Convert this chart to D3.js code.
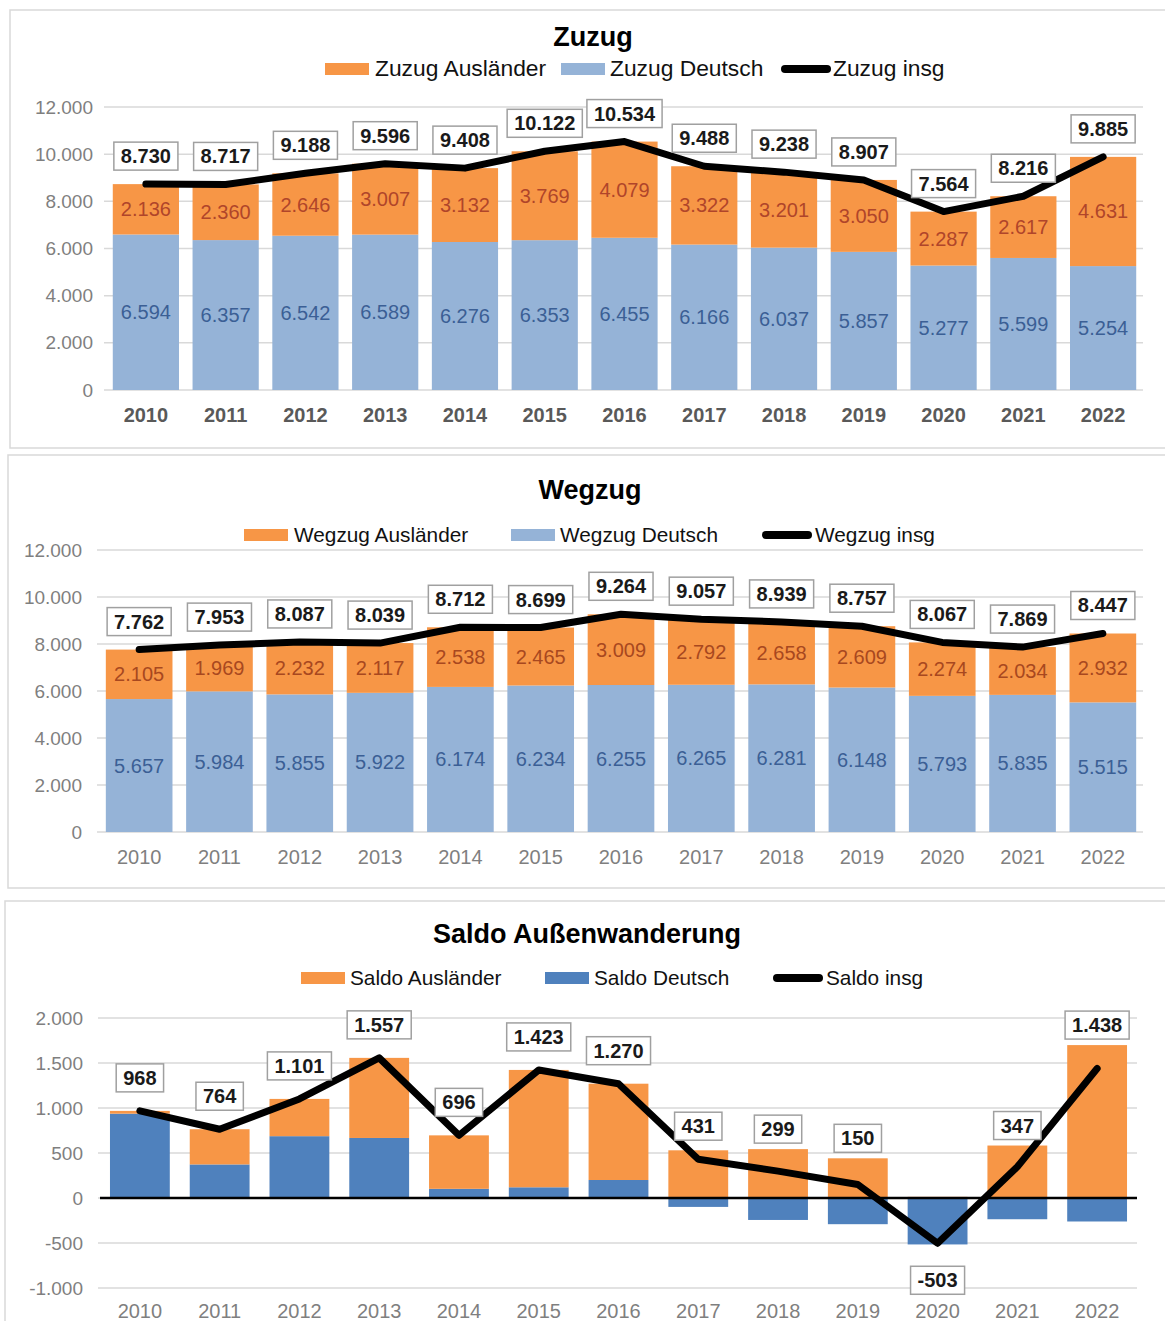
<!DOCTYPE html>
<html><head><meta charset="utf-8">
<script src="https://cdn.jsdelivr.net/npm/d3@7"></script>
<style>body{margin:0;background:#fff;} svg{display:block;font-family:"Liberation Sans",Arial,sans-serif;}</style>
</head><body>
<svg id="c" width="1165" height="1321"></svg>
<script>
const years = ["2010","2011","2012","2013","2014","2015","2016","2017","2018","2019","2020","2021","2022"];
const zuzugAuslaender = [2136,2360,2646,3007,3132,3769,4079,3322,3201,3050,2287,2617,4631];
const zuzugDeutsch    = [6594,6357,6542,6589,6276,6353,6455,6166,6037,5857,5277,5599,5254];
const zuzugInsg       = [8730,8717,9188,9596,9408,10122,10534,9488,9238,8907,7564,8216,9885];
const wegzugAuslaender = [2105,1969,2232,2117,2538,2465,3009,2792,2658,2609,2274,2034,2932];
const wegzugDeutsch    = [5657,5984,5855,5922,6174,6234,6255,6265,6281,6148,5793,5835,5515];
const wegzugInsg       = [7762,7953,8087,8039,8712,8699,9264,9057,8939,8757,8067,7869,8447];
const saldoAuslaender = [31,391,414,890,594,1304,1070,530,543,441,13,583,1699];
const saldoDeutsch    = [937,373,687,667,102,119,200,-99,-244,-291,-516,-236,-261];
const saldoInsg       = [968,764,1101,1557,696,1423,1270,431,299,150,-503,347,1438];
const ticksZuzug = [0,2000,4000,6000,8000,10000,12000];
const ticksSaldo = [-1000,-500,0,500,1000,1500,2000];

const loc = d3.formatLocale({decimal:",",thousands:".",grouping:[3],currency:["","€"],minus:"-"});
const fmt = loc.format(",d");
const svg = d3.select("#c");

const ORANGE="#F79646", LBLUE="#95B3D7", DBLUE="#4F81BD";

function panel(o){
  const g = svg.append("g");
  g.append("rect").attr("x",o.box[0]).attr("y",o.box[1]).attr("width",o.box[2]).attr("height",o.box[3])
    .attr("fill","#fff").attr("stroke","#d9d9d9").attr("stroke-width",1.5);
  g.append("text").attr("x",o.titleX).attr("y",o.titleY).attr("text-anchor","middle")
    .attr("font-size",27).attr("font-weight","bold").attr("fill","#000").text(o.title);
  // legend
  o.legend.forEach(l=>{
    if(l.type==="rect"){
      g.append("rect").attr("x",l.x).attr("y",o.legY-6).attr("width",44).attr("height",12).attr("fill",l.color);
    } else {
      g.append("line").attr("x1",l.x+4).attr("x2",l.x+46).attr("y1",o.legY).attr("y2",o.legY)
        .attr("stroke","#000").attr("stroke-width",8).attr("stroke-linecap","round");
    }
    g.append("text").attr("x",l.tx).attr("y",o.legY+7).attr("font-size",o.legFont).attr("fill","#111").text(l.label);
  });
  const x = d3.scaleBand().domain(years).range(o.xr).paddingInner(o.pi).paddingOuter(o.pi/2);
  const y = d3.scaleLinear().domain(o.dom).range(o.yr);
  // grid
  g.append("g").selectAll("line").data(o.ticks).join("line")
    .attr("x1",o.xr[0]-2).attr("x2",o.xr[1]).attr("y1",d=>y(d)).attr("y2",d=>y(d))
    .attr("stroke","#d9d9d9").attr("stroke-width",1.5);
  // y axis
  const ya = g.append("g").attr("transform",`translate(${o.xr[0]},0)`)
    .call(d3.axisLeft(y).tickValues(o.ticks).tickFormat(fmt).tickSize(0).tickPadding(o.tickPad));
  ya.select(".domain").remove();
  ya.selectAll("text").attr("font-size",19).attr("fill","#7f7f7f").attr("font-family","Liberation Sans, Arial, sans-serif");
  // bars (stacked, positive and negative separately)
  years.forEach((yr,i)=>{
    let pos=0, neg=0;
    o.series.forEach(s=>{
      const v = s.values[i];
      let y0,y1;
      if(v>=0){y0=pos; y1=pos+v; pos=y1;} else {y0=neg; y1=neg+v; neg=y1;}
      g.append("rect").attr("x",x(yr)).attr("width",x.bandwidth())
        .attr("y",y(Math.max(y0,y1))).attr("height",Math.abs(y(y0)-y(y1))).attr("fill",s.color);
      if(s.labelColor){
        g.append("text").attr("x",x(yr)+x.bandwidth()/2).attr("y",(y(y0)+y(y1))/2+7)
          .attr("text-anchor","middle").attr("font-size",20).attr("fill",s.labelColor).text(fmt(v));
      }
    });
  });
  if(o.zeroLine){
    g.append("line").attr("x1",o.xr[0]).attr("x2",o.xr[1]).attr("y1",y(0)).attr("y2",y(0))
      .attr("stroke","#000").attr("stroke-width",2.5);
  }
  // x labels
  g.append("g").selectAll("text").data(years).join("text")
    .attr("x",d=>x(d)+x.bandwidth()/2).attr("y",o.xLabY).attr("text-anchor","middle")
    .attr("font-size",20).attr("font-weight",o.xBold?"bold":"normal").attr("fill",o.xBold?"#595959":"#7f7f7f").text(d=>d);
  // line
  const line = d3.line().x((d,i)=>x(years[i])+x.bandwidth()/2).y(d=>y(d));
  g.append("path").datum(o.total).attr("d",line).attr("fill","none").attr("stroke","#000")
    .attr("stroke-width",7).attr("stroke-linejoin","round").attr("stroke-linecap","round");
  // total labels
  o.total.forEach((v,i)=>{
    const cx = x(years[i])+x.bandwidth()/2;
    let cy;
    if(v<0) cy = y(v)+37;
    else {
      const posTop = d3.sum(o.series.map(s=>Math.max(0,s.values[i])));
      cy = Math.min(y(v)-o.labOff, y(posTop)-20);
    }
    const t = g.append("text").attr("x",cx).attr("y",cy+7).attr("text-anchor","middle")
      .attr("font-size",20).attr("font-weight","bold").attr("fill","#1a1a1a").text(fmt(v));
    const w = t.node().getComputedTextLength()+14;
    g.insert("rect", function(){return t.node();}).attr("x",cx-w/2).attr("y",cy-14).attr("width",w).attr("height",28)
      .attr("fill","#fff").attr("stroke","#a0a0a0").attr("stroke-width",1.5);
  });
}

panel({
  box:[10,10,1170,438], title:"Zuzug", titleX:593, titleY:46, legY:69, legFont:22.8,
  legend:[{type:"rect",x:325,tx:375,color:ORANGE,label:"Zuzug Ausländer"},
          {type:"rect",x:561,tx:610,color:LBLUE,label:"Zuzug Deutsch"},
          {type:"line",x:781,tx:833,label:"Zuzug insg"}],
  xr:[106,1143], pi:0.17, dom:[0,12000], yr:[390,107], ticks:ticksZuzug, tickPad:13, labOff:28,
  series:[{values:zuzugDeutsch,color:LBLUE,labelColor:"#3b5f95"},{values:zuzugAuslaender,color:ORANGE,labelColor:"#b0452a"}],
  total:zuzugInsg, xLabY:422, xBold:true
});
panel({
  box:[8,455,1170,433], title:"Wegzug", titleX:590, titleY:499, legY:535, legFont:20.8,
  legend:[{type:"rect",x:244,tx:294,color:ORANGE,label:"Wegzug Ausländer"},
          {type:"rect",x:511,tx:560,color:LBLUE,label:"Wegzug Deutsch"},
          {type:"line",x:762,tx:815,label:"Wegzug insg"}],
  xr:[99,1143], pi:0.17, dom:[0,12000], yr:[832,550], ticks:ticksZuzug, tickPad:17, labOff:28,
  series:[{values:wegzugDeutsch,color:LBLUE,labelColor:"#3b5f95"},{values:wegzugAuslaender,color:ORANGE,labelColor:"#a8481f"}],
  total:wegzugInsg, xLabY:864, xBold:false
});
panel({
  box:[5,901,1170,450], title:"Saldo Außenwanderung", titleX:587, titleY:943, legY:978, legFont:20.8,
  legend:[{type:"rect",x:301,tx:350,color:ORANGE,label:"Saldo Ausländer"},
          {type:"rect",x:545,tx:594,color:DBLUE,label:"Saldo Deutsch"},
          {type:"line",x:773,tx:826,label:"Saldo insg"}],
  xr:[100,1137], pi:0.25, dom:[-1000,2000], yr:[1288,1018], ticks:ticksSaldo, tickPad:17, labOff:33,
  series:[{values:saldoDeutsch,color:DBLUE},{values:saldoAuslaender,color:ORANGE}],
  total:saldoInsg, xLabY:1318, xBold:false, zeroLine:true
});
</script>
</body></html>
